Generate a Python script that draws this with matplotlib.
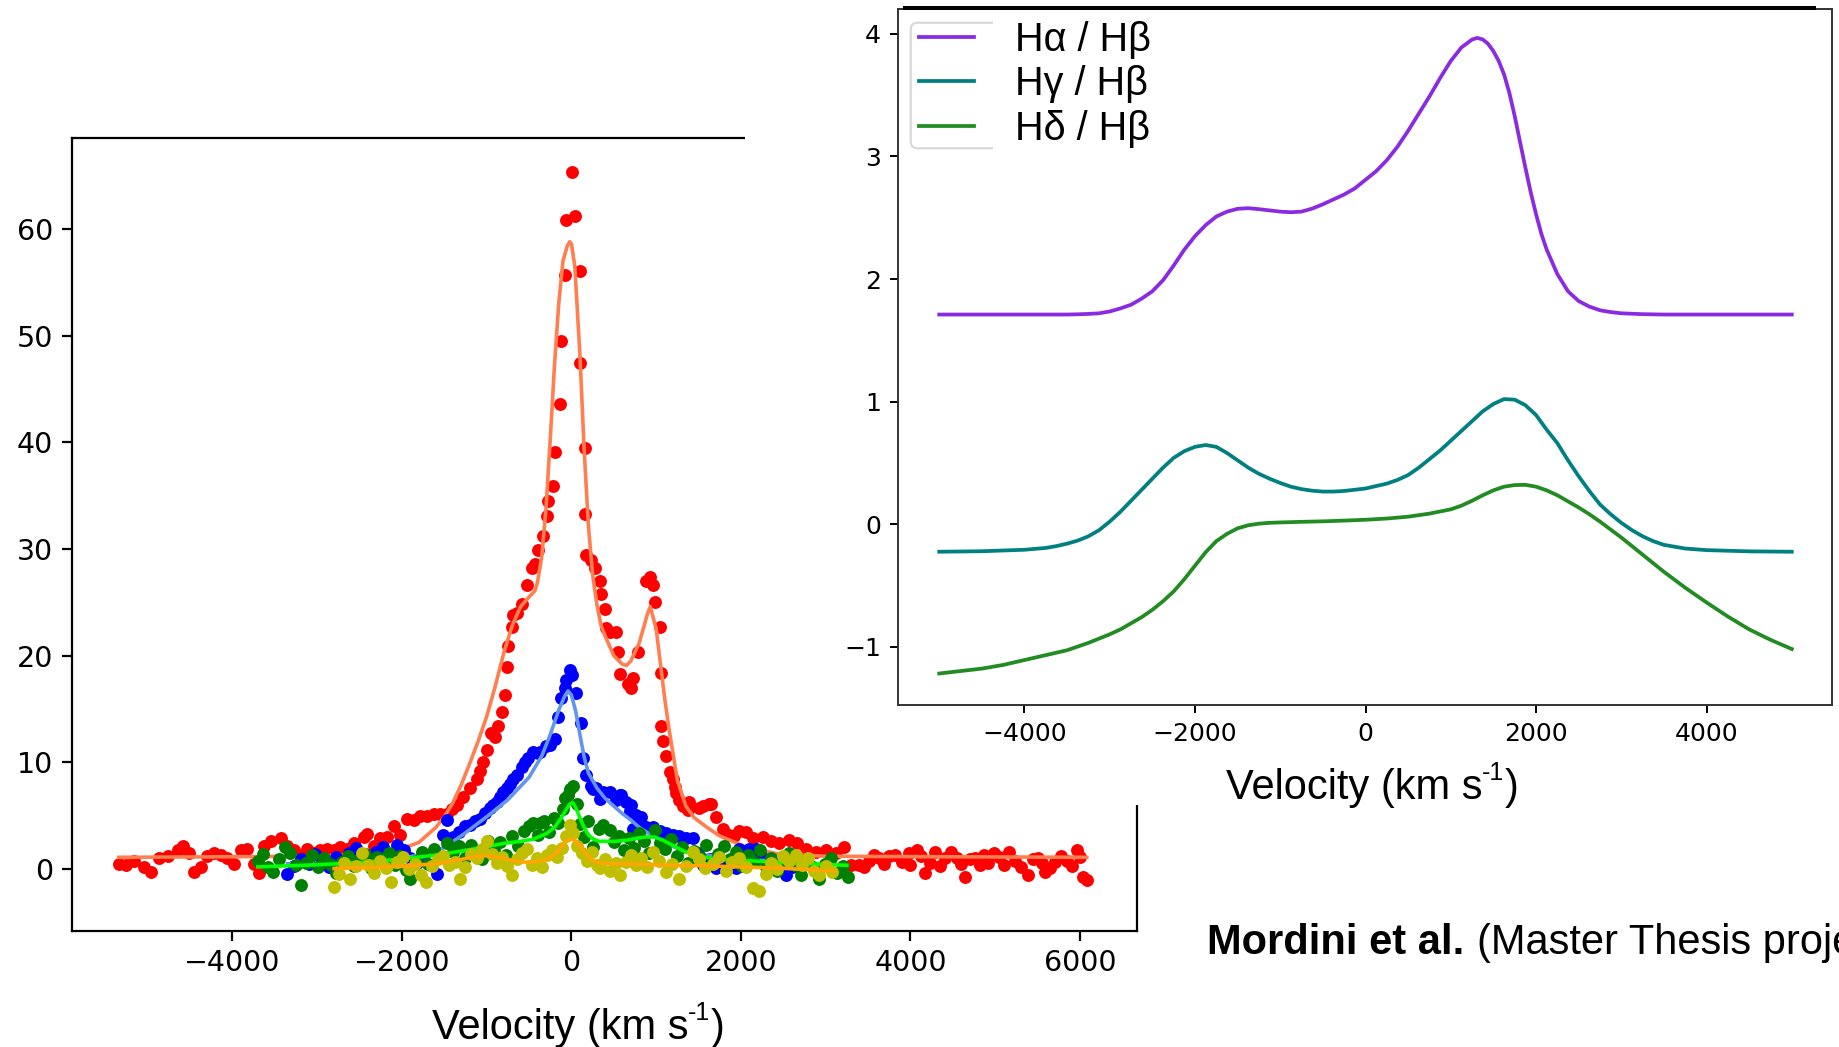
import numpy as np
import matplotlib.pyplot as plt
from matplotlib.patches import Rectangle, FancyBboxPatch
from matplotlib.lines import Line2D
from matplotlib.transforms import Bbox, IdentityTransform

# ---- left panel: line profiles (velocity km/s, flux) ----
red_pts = [
    (-5333, 0.5), (-5255, 0.4), (-5157, 0.8), (-5039, 0.2), (-4961, -0.3), (-4863, 1.0),
    (-4765, 1.2), (-4647, 1.8), (-4588, 2.2), (-4510, 1.5), (-4451, -0.3), (-4373, 0.2),
    (-4294, 1.2), (-4216, 1.5), (-4137, 1.3), (-4059, 1.0), (-3980, 0.5), (-3902, 1.8),
    (-3823, 1.9), (-3745, 0.5), (-3686, -0.4), (-3627, 2.2), (-3549, 2.6), (-3431, 2.9),
    (-3353, 2.2), (-3274, 1.8), (-3196, 1.2), (-3117, 1.9), (-3039, 1.5), (-2961, 1.8),
    (-2882, 1.9), (-2804, 1.8), (-2725, 2.1), (-2647, 1.9), (-2568, 2.4), (-2451, 3.0),
    (-2411, 3.3), (-2333, 2.2), (-2255, 2.9), (-2176, 3.0), (-2098, 4.0), (-2019, 3.2),
    (-1941, 4.7), (-1863, 4.6), (-1784, 5.0), (-1706, 5.0), (-1627, 5.2), (-1549, 5.2),
    (-1471, 5.2), (-1411, 5.6), (-1353, 6.0), (-1275, 6.8), (-1196, 7.6), (-1118, 8.4),
    (-1079, 9.2), (-1039, 10.0), (-1000, 11.2), (-954, 12.8), (-902, 12.4), (-863, 13.4),
    (-824, 14.7), (-784, 16.3), (-765, 18.9), (-745, 20.9), (-706, 22.7), (-686, 23.8),
    (-647, 24.0), (-589, 24.8), (-530, 26.6), (-470, 28.2), (-432, 28.6), (-393, 29.9),
    (-334, 31.2), (-294, 33.1), (-275, 34.5), (-216, 35.9), (-196, 39.1), (-137, 43.6),
    (-118, 49.5), (-79, 55.7), (-59, 60.8), (10, 65.3), (39, 61.2), (98, 56.1), (98, 47.4),
    (156, 39.5), (156, 33.3), (176, 29.4), (235, 29.0), (274, 28.2), (333, 27.0),
    (353, 25.8), (392, 24.4), (411, 22.6), (451, 22.2), (529, 22.2), (549, 20.3),
    (568, 18.3), (666, 17.3), (705, 17.0), (725, 17.9), (784, 20.3), (882, 27.0),
    (921, 27.4), (960, 26.6), (980, 25.0), (1039, 22.7), (1058, 18.4), (1058, 13.4),
    (1078, 12.0), (1117, 10.6), (1157, 9.1), (1196, 8.4), (1216, 7.7), (1235, 7.1),
    (1274, 6.5), (1314, 5.9), (1372, 5.5), (1392, 6.3), (1509, 5.7), (1549, 5.9),
    (1627, 6.1), (1647, 6.1), (1705, 4.9), (1784, 3.8), (1862, 3.2), (1921, 3.1),
    (1980, 3.6), (2058, 3.5), (2137, 2.9), (2255, 3.0), (2352, 2.6), (2451, 2.4),
    (2568, 2.7), (2666, 2.4), (2764, 1.9), (2882, 1.6), (3000, 1.8), (3117, 1.5),
    (3215, 2.1), (3294, 0.4), (3392, 0.4), (3450, 0.2), (3510, 0.8), (3570, 1.3),
    (3627, 1.0), (3690, 0.5), (3745, 1.2), (3823, 1.3), (3900, 0.7), (3980, 1.5),
    (4000, 0.4), (4078, 1.8), (4130, 1.2), (4176, -0.4), (4230, 0.6), (4294, 1.6),
    (4350, 0.3), (4412, 1.0), (4480, 1.6), (4549, 1.0), (4600, 0.5), (4647, -0.7),
    (4700, 0.9), (4765, 1.0), (4820, 0.4), (4863, 1.3), (4920, 0.6), (4980, 1.5),
    (5040, 1.1), (5098, 0.4), (5160, 1.6), (5235, 0.8), (5300, 0.2), (5392, -0.6),
    (5450, 0.9), (5510, 1.0), (5550, 0.6), (5588, -0.3), (5650, 0.1), (5706, 0.7),
    (5770, 1.2), (5843, 0.8), (5900, 0.3), (5961, 1.8), (6000, 1.1), (6039, -0.7),
    (6085, -1.0),
]
red_fit = [
    (-5340, 1.1), (-3000, 1.2), (-2500, 1.4), (-2200, 1.6), (-2000, 1.9), (-1800, 2.5),
    (-1600, 3.9), (-1500, 4.9), (-1400, 6.2), (-1300, 7.9), (-1200, 9.9), (-1100, 12.0),
    (-1000, 14.3), (-900, 17.1), (-800, 20.2), (-700, 22.8), (-600, 24.6), (-500, 25.5),
    (-430, 26.1), (-400, 26.9), (-350, 29.3), (-300, 33.8), (-250, 40.3), (-200, 47.2),
    (-150, 53.0), (-100, 57.0), (-50, 58.4), (-20, 58.8), (0, 58.6), (40, 56.5),
    (100, 48.2), (150, 39.3), (200, 32.2), (250, 27.6), (300, 24.8), (350, 22.8),
    (400, 21.8), (500, 20.0), (600, 19.2), (650, 19.1), (700, 19.5), (800, 21.2),
    (900, 24.0), (930, 24.6), (1000, 22.5), (1100, 16.0), (1150, 13.2), (1250, 8.3),
    (1350, 5.9), (1450, 4.8), (1600, 3.9), (1750, 3.1), (1900, 2.6), (2050, 2.1),
    (2450, 1.4), (3000, 1.2), (6080, 1.1),
]
blue_pts = [
    (-3350, -0.5), (-3270, 0.3), (-3190, 0.9), (-3100, 0.5), (-3020, 1.4), (-2940, 0.8),
    (-2860, 0.2), (-2780, 1.1), (-2700, 0.6), (-2620, 1.5), (-2540, 2.0), (-2460, 1.2),
    (-2380, 0.7), (-2300, 1.6), (-2220, 2.1), (-2140, 1.4), (-2060, 2.3), (-1980, 1.8),
    (-1900, 1.0), (-1820, 0.6), (-1740, 1.3), (-1660, 0.4), (-1590, -0.5), (-1520, 3.2),
    (-1470, 4.6), (-1400, 3.0), (-1330, 3.5), (-1260, 4.0), (-1196, 4.1), (-1140, 4.5),
    (-1079, 4.7), (-1020, 5.3), (-961, 5.7), (-920, 6.0), (-883, 6.3), (-840, 6.8),
    (-804, 7.2), (-760, 7.6), (-726, 8.0), (-690, 8.4), (-647, 8.8), (-589, 9.6),
    (-550, 10.0), (-510, 10.4), (-451, 11.0), (-400, 10.9), (-373, 11.0), (-300, 11.5),
    (-255, 11.6), (-196, 12.2), (-157, 14.3), (-120, 16.0), (-79, 17.0), (-59, 17.7),
    (-20, 18.7), (10, 18.2), (59, 16.5), (118, 13.7), (137, 10.4), (176, 8.8), (235, 7.8),
    (255, 7.5), (294, 7.6), (333, 6.6), (372, 7.2), (451, 7.2), (529, 6.5), (568, 6.9),
    (588, 6.9), (647, 6.3), (686, 5.4), (706, 6.0), (725, 3.8), (764, 5.1), (804, 4.7),
    (823, 4.9), (882, 3.9), (960, 3.9), (1039, 3.6), (1117, 3.4), (1196, 3.2), (1274, 3.1),
    (1353, 2.9), (1431, 2.9), (1490, 1.5), (1549, 0.4), (1630, 0.9), (1706, 0.1),
    (1790, 0.6), (1860, 0.3), (1941, 0.1), (1980, 1.9), (2040, 1.6), (2098, 1.9),
    (2176, 1.9), (2240, 1.2), (2294, 0.7), (2370, 0.3), (2450, 0.0), (2530, -0.6),
    (2600, 0.2),
]
blue_fit = [
    (-3350, 0.5), (-2800, 0.6), (-2300, 0.8), (-2000, 1.0), (-1750, 1.4), (-1500, 2.0),
    (-1250, 3.4), (-1000, 4.9), (-750, 6.5), (-500, 8.6), (-350, 10.6), (-250, 12.6),
    (-150, 14.9), (-80, 16.2), (-40, 16.7), (0, 16.3), (50, 14.8), (100, 12.6),
    (150, 10.5), (200, 9.0), (300, 7.6), (400, 6.6), (500, 5.9), (600, 5.2), (700, 4.6),
    (800, 3.9), (900, 3.4), (1000, 2.9), (1200, 2.1), (1500, 1.4), (2000, 0.9), (2600, 0.7),
]
green_pts = [
    (-3700, 0.8), (-3640, 1.4), (-3580, 0.2), (-3520, -0.3), (-3450, 0.9), (-3380, 2.1),
    (-3320, 1.5), (-3250, 0.4), (-3190, -1.5), (-3130, 0.6), (-3060, 1.3), (-2990, 0.2),
    (-2920, 1.0), (-2850, 0.5), (-2780, -0.4), (-2710, 0.7), (-2640, 1.2), (-2570, 0.3),
    (-2500, 0.9), (-2430, 1.4), (-2360, 0.1), (-2290, 1.1), (-2220, 0.6), (-2150, 1.5),
    (-2080, 0.4), (-2020, 1.2), (-1950, -0.1), (-1900, -0.9), (-1830, 0.8), (-1760, 1.6),
    (-1690, 0.5), (-1620, 1.9), (-1550, 1.1), (-1470, 2.4), (-1400, 1.6), (-1330, 2.2),
    (-1260, 1.0), (-1190, 2.3), (-1120, 1.7), (-1050, 0.9), (-980, 2.6), (-910, 1.8),
    (-840, 2.5), (-770, 1.3), (-700, 3.1), (-630, 2.2), (-560, 3.6), (-500, 4.0),
    (-450, 4.3), (-400, 3.2), (-373, 4.3), (-320, 4.5), (-260, 3.5), (-200, 4.8),
    (-157, 4.3), (-100, 5.6), (-79, 6.7), (-40, 6.9), (-20, 7.5), (19, 7.8), (60, 6.1),
    (100, 4.2), (150, 3.0), (200, 4.5), (260, 2.1), (320, 3.8), (372, 4.1), (451, 3.7),
    (500, 2.5), (560, 3.1), (620, 1.8), (680, 2.9), (740, 2.0), (800, 3.4), (860, 2.6),
    (920, 1.5), (980, 3.7), (1040, 2.4), (1100, 1.9), (1170, 2.8), (1240, 1.2),
    (1310, 2.1), (1380, 0.6), (1450, 1.7), (1520, 1.1), (1590, 2.3), (1660, 0.5),
    (1730, 1.4), (1800, 2.2), (1870, 0.9), (1940, 1.6), (2010, 0.3), (2080, 1.3),
    (2150, 0.7), (2220, 1.8), (2290, 0.2), (2360, 1.0), (2430, -0.2), (2500, 0.8),
    (2570, 1.5), (2640, 0.4), (2710, -0.6), (2780, 0.9), (2850, 0.2), (2920, -0.9),
    (2990, 0.5), (3060, 1.0), (3130, -0.4), (3200, 0.3), (3260, -0.7),
]
green_fit = [
    (-3700, 0.2), (-3000, 0.4), (-2500, 0.6), (-2000, 0.95), (-1600, 1.3), (-1250, 1.75),
    (-1000, 2.1), (-800, 2.4), (-600, 2.6), (-450, 2.8), (-300, 3.3), (-200, 3.9),
    (-120, 4.8), (-60, 5.6), (-20, 6.1), (20, 6.2), (60, 5.6), (100, 4.8), (150, 3.9),
    (200, 3.2), (260, 2.8), (330, 2.6), (420, 2.6), (520, 2.6), (650, 2.7), (780, 2.9),
    (880, 3.0), (980, 3.0), (1080, 2.7), (1200, 2.2), (1320, 1.7), (1500, 1.2),
    (1700, 0.95), (1900, 0.85), (2300, 0.7), (2800, 0.5), (3250, 0.35),
]
yellow_pts = [
    (-2800, -1.7), (-2740, -0.5), (-2680, 0.6), (-2610, -0.9), (-2540, 0.3), (-2470, 1.5),
    (-2400, 0.4), (-2330, -0.4), (-2260, 0.8), (-2190, 0.1), (-2130, -1.2), (-2060, 0.7),
    (-1990, 1.1), (-1920, 0.0), (-1850, 0.5), (-1780, -0.6), (-1710, -1.2), (-1640, 0.3),
    (-1570, 0.9), (-1510, 1.2), (-1440, 0.4), (-1370, 0.7), (-1310, -0.9), (-1250, 0.2),
    (-1180, 1.4), (-1120, 1.0), (-1060, 1.9), (-1000, 2.6), (-940, 1.4), (-880, 0.6),
    (-820, 1.1), (-760, 0.3), (-700, -0.6), (-640, 0.9), (-580, 1.5), (-530, 1.9),
    (-470, 0.4), (-410, 1.0), (-350, 0.2), (-290, 1.3), (-230, 1.8), (-170, 1.1),
    (-110, 2.0), (-60, 3.1), (-19, 4.1), (20, 3.4), (70, 2.2), (120, 1.5), (180, 0.8),
    (240, 1.6), (300, 0.4), (333, 0.1), (400, 0.9), (460, -0.2), (520, 0.6), (568, -0.6),
    (640, 0.7), (700, 1.3), (760, 0.4), (820, 1.0), (890, 0.2), (961, 1.6), (1030, 0.8),
    (1118, -0.3), (1190, 0.5), (1274, -0.9), (1350, 0.3), (1431, 1.6), (1500, 0.9),
    (1580, 0.1), (1667, 0.5), (1740, 1.1), (1820, -0.2), (1900, 0.7), (1980, 1.0),
    (2060, 0.2), (2137, -1.8), (2216, -2.1), (2290, -0.5), (2360, 0.6), (2430, 0.0),
    (2500, 1.2), (2570, 0.8), (2647, 1.3), (2720, 0.4), (2790, 1.0), (2860, -0.2),
    (2922, -0.6), (3000, 0.3), (3079, -0.25),
]
yellow_fit = [
    (-2800, 0.05), (-2400, 0.15), (-2000, 0.25), (-1600, 0.5), (-1300, 0.9), (-1150, 1.15),
    (-1000, 1.25), (-850, 1.1), (-700, 0.8), (-550, 0.65), (-400, 0.7), (-280, 0.95),
    (-180, 1.5), (-100, 2.3), (-40, 2.75), (0, 2.8), (40, 2.7), (100, 2.2), (170, 1.4),
    (250, 0.8), (350, 0.55), (500, 0.5), (800, 0.45), (1200, 0.35), (1600, 0.3),
    (2000, 0.2), (2400, 0.1), (2800, -0.05), (3100, -0.2),
]

# ---- right panel: Balmer decrements ----
ratio_labels = ['Hα / Hβ', 'Hγ / Hβ', 'Hδ / Hβ']
ha_hb = [
    (-5000, 1.71), (-4000, 1.71), (-3500, 1.71), (-3375, 1.712), (-3250, 1.715),
    (-3125, 1.72), (-3000, 1.735), (-2875, 1.76), (-2750, 1.79), (-2625, 1.84),
    (-2500, 1.90), (-2375, 1.99), (-2250, 2.11), (-2125, 2.24), (-2000, 2.35),
    (-1875, 2.44), (-1750, 2.51), (-1625, 2.55), (-1500, 2.573), (-1375, 2.578),
    (-1250, 2.57), (-1125, 2.56), (-1000, 2.55), (-875, 2.545), (-750, 2.55),
    (-625, 2.575), (-500, 2.61), (-375, 2.65), (-250, 2.69), (-125, 2.74), (0, 2.81),
    (125, 2.88), (250, 2.97), (375, 3.08), (500, 3.21), (625, 3.35), (750, 3.49),
    (875, 3.64), (1000, 3.78), (1125, 3.89), (1250, 3.955), (1312, 3.968), (1375, 3.955),
    (1437, 3.92), (1500, 3.86), (1562, 3.78), (1625, 3.67), (1687, 3.52), (1750, 3.33),
    (1812, 3.12), (1875, 2.91), (1937, 2.71), (2000, 2.53), (2062, 2.37), (2125, 2.24),
    (2250, 2.04), (2375, 1.90), (2500, 1.82), (2625, 1.775), (2750, 1.745),
    (2875, 1.73), (3000, 1.72), (3250, 1.713), (3500, 1.71), (4000, 1.71), (5000, 1.71),
]
hg_hb = [
    (-5000, -0.226), (-4500, -0.222), (-4000, -0.21), (-3750, -0.195), (-3625, -0.18),
    (-3500, -0.16), (-3375, -0.135), (-3250, -0.10), (-3125, -0.05), (-3000, 0.02),
    (-2875, 0.10), (-2750, 0.19), (-2625, 0.28), (-2500, 0.37), (-2375, 0.46),
    (-2250, 0.54), (-2125, 0.595), (-2000, 0.63), (-1875, 0.645), (-1750, 0.63),
    (-1625, 0.58), (-1500, 0.52), (-1375, 0.46), (-1250, 0.41), (-1125, 0.37),
    (-1000, 0.335), (-875, 0.305), (-750, 0.285), (-625, 0.272), (-500, 0.265),
    (-375, 0.265), (-250, 0.27), (-125, 0.28), (0, 0.29), (125, 0.31), (250, 0.33),
    (375, 0.36), (500, 0.40), (625, 0.46), (750, 0.53), (875, 0.60), (1000, 0.68),
    (1125, 0.76), (1250, 0.84), (1375, 0.92), (1500, 0.98), (1625, 1.02), (1750, 1.015),
    (1875, 0.97), (2000, 0.89), (2125, 0.77), (2250, 0.66), (2375, 0.52), (2500, 0.39),
    (2625, 0.27), (2750, 0.16), (2875, 0.08), (3000, 0.01), (3125, -0.05), (3250, -0.10),
    (3375, -0.14), (3500, -0.17), (3750, -0.20), (4000, -0.213), (4500, -0.223),
    (5000, -0.226),
]
hd_hb = [
    (-5000, -1.22), (-4750, -1.20), (-4500, -1.18), (-4250, -1.15), (-4000, -1.11),
    (-3750, -1.07), (-3500, -1.03), (-3250, -0.97), (-3000, -0.90), (-2875, -0.86),
    (-2750, -0.81), (-2625, -0.76), (-2500, -0.70), (-2375, -0.63), (-2250, -0.55),
    (-2125, -0.45), (-2000, -0.34), (-1875, -0.23), (-1750, -0.14), (-1625, -0.08),
    (-1500, -0.035), (-1375, -0.01), (-1250, 0.003), (-1125, 0.01), (-1000, 0.013),
    (-750, 0.018), (-500, 0.022), (-250, 0.028), (0, 0.035), (250, 0.045), (500, 0.06),
    (750, 0.085), (1000, 0.12), (1125, 0.15), (1250, 0.19), (1375, 0.235), (1500, 0.275),
    (1625, 0.305), (1750, 0.318), (1875, 0.32), (2000, 0.305), (2125, 0.275),
    (2250, 0.235), (2375, 0.185), (2500, 0.135), (2625, 0.08), (2750, 0.02),
    (2875, -0.045), (3000, -0.11), (3250, -0.25), (3500, -0.39), (3750, -0.52),
    (4000, -0.64), (4250, -0.755), (4500, -0.86), (4750, -0.945), (5000, -1.02),
]

W, H = 1839, 1047
fig = plt.figure(figsize=(W / 100, H / 100), dpi=100)


def box(x0, y0, x1, y1):
    # pixel box (origin top left) -> fig fraction
    return [x0 / W, 1 - y1 / H, (x1 - x0) / W, (y1 - y0) / H]


def xy(pts):
    a = np.array(pts, dtype=float)
    return a[:, 0], a[:, 1]


# left panel
ax1 = fig.add_axes(box(72.2, 138.3, 1137.3, 930.5))
ms = 9.3
for pts, fit, c_pt, c_fit in [(red_pts, red_fit, 'red', 'coral'),
                             (blue_pts, blue_fit, 'blue', 'cornflowerblue'),
                             (green_pts, green_fit, 'green', 'lime'),
                             (yellow_pts, yellow_fit, 'y', 'orange')]:
    v, f = xy(pts)
    ax1.plot(v, f, 'o', color=c_pt, ms=ms, mew=0)
    v, f = xy(fit)
    ax1.plot(v, f, '-', color=c_fit, lw=2.6)
ax1.set_xlim(-5890, 6676)
ax1.set_ylim(-5.76, 68.5)
ax1.set_xticks([-4000, -2000, 0, 2000, 4000, 6000])
ax1.set_yticks([0, 10, 20, 30, 40, 50, 60])
ax1.tick_params(labelsize=20.5, length=7, width=1.6, pad=6)
ax1.tick_params(axis='y', pad=7)
for s in ax1.spines.values():
    s.set_linewidth(1.6)

# white sheet of the second picture lying on top of the first one
fig.add_artist(Rectangle((745, 242.5), W - 745, H - 242.5, transform=IdentityTransform(),
                         facecolor='white', edgecolor='none', zorder=1))

# right panel
ax2 = fig.add_axes(box(898.3, 8.5, 1832.3, 704.5))
ax2.set_zorder(2)
for pts, c, lab in zip([ha_hb, hg_hb, hd_hb], ['blueviolet', 'teal', 'forestgreen'], ratio_labels):
    v, r = xy(pts)
    ax2.plot(v, r, '-', color=c, lw=2.7, label=lab)
ax2.set_xlim(-5480, 5475)
ax2.set_ylim(-1.473, 4.208)
ax2.set_xticks([-4000, -2000, 0, 2000, 4000])
ax2.set_yticks([-1, 0, 1, 2, 3, 4])
ax2.tick_params(labelsize=18, length=6, width=1.4, pad=6.5)
for s in ax2.spines.values():
    s.set_linewidth(1.4)
    s.set_color('#333333')

ax2.legend(loc='upper left', bbox_to_anchor=(919.3 / W, 1 - 21 / H),
           bbox_transform=fig.transFigure, frameon=False,
           prop={'family': 'Liberation Sans', 'size': 28.5},
           handlelength=1.38, handletextpad=1.04, labelspacing=0.16,
           borderpad=0, borderaxespad=0)

# cut legend frame, left over from the original picture
frame = FancyBboxPatch((910.7, H - 148.3), 120, 125.6, boxstyle='round,pad=0,rounding_size=7',
                       transform=IdentityTransform(), facecolor='none',
                       edgecolor='#d6d6d6', lw=1.5, zorder=5)
frame.set_clip_box(Bbox.from_extents(0, 0, 993.3, H))
fig.add_artist(frame)

fig.add_artist(Line2D([903, 1816], [H - 8.3, H - 8.3], transform=IdentityTransform(),
                      color='black', lw=2.9, solid_capstyle='butt', zorder=5))

rend = fig.canvas.get_renderer()


def velocity_label(x, y, size):
    fam = 'Liberation Sans'
    t = fig.text(x / W, 1 - y / H, 'Velocity (km s', fontsize=size, family=fam, va='baseline')
    bb = t.get_window_extent(rend)
    up = size * 0.45 * 100 / 72
    sup = fig.text(bb.x1 / W, (H - y + up) / H, '-1', fontsize=size * 0.6, family=fam, va='baseline')
    bb2 = sup.get_window_extent(rend)
    fig.text(bb2.x1 / W, 1 - y / H, ')', fontsize=size, family=fam, va='baseline')


velocity_label(431.6, 1038.5, 30)
velocity_label(1225.6, 798.5, 30)

t = fig.text(1207 / W, 1 - 954 / H, 'Mordini et al.', fontsize=30, weight='bold',
             family='Liberation Sans', va='baseline')
bb = t.get_window_extent(rend)
fig.text((bb.x1 + 13) / W, 1 - 954 / H, '(Master Thesis project)', fontsize=30,
         family='Liberation Sans', va='baseline')

fig.savefig('out.png', dpi=100)
